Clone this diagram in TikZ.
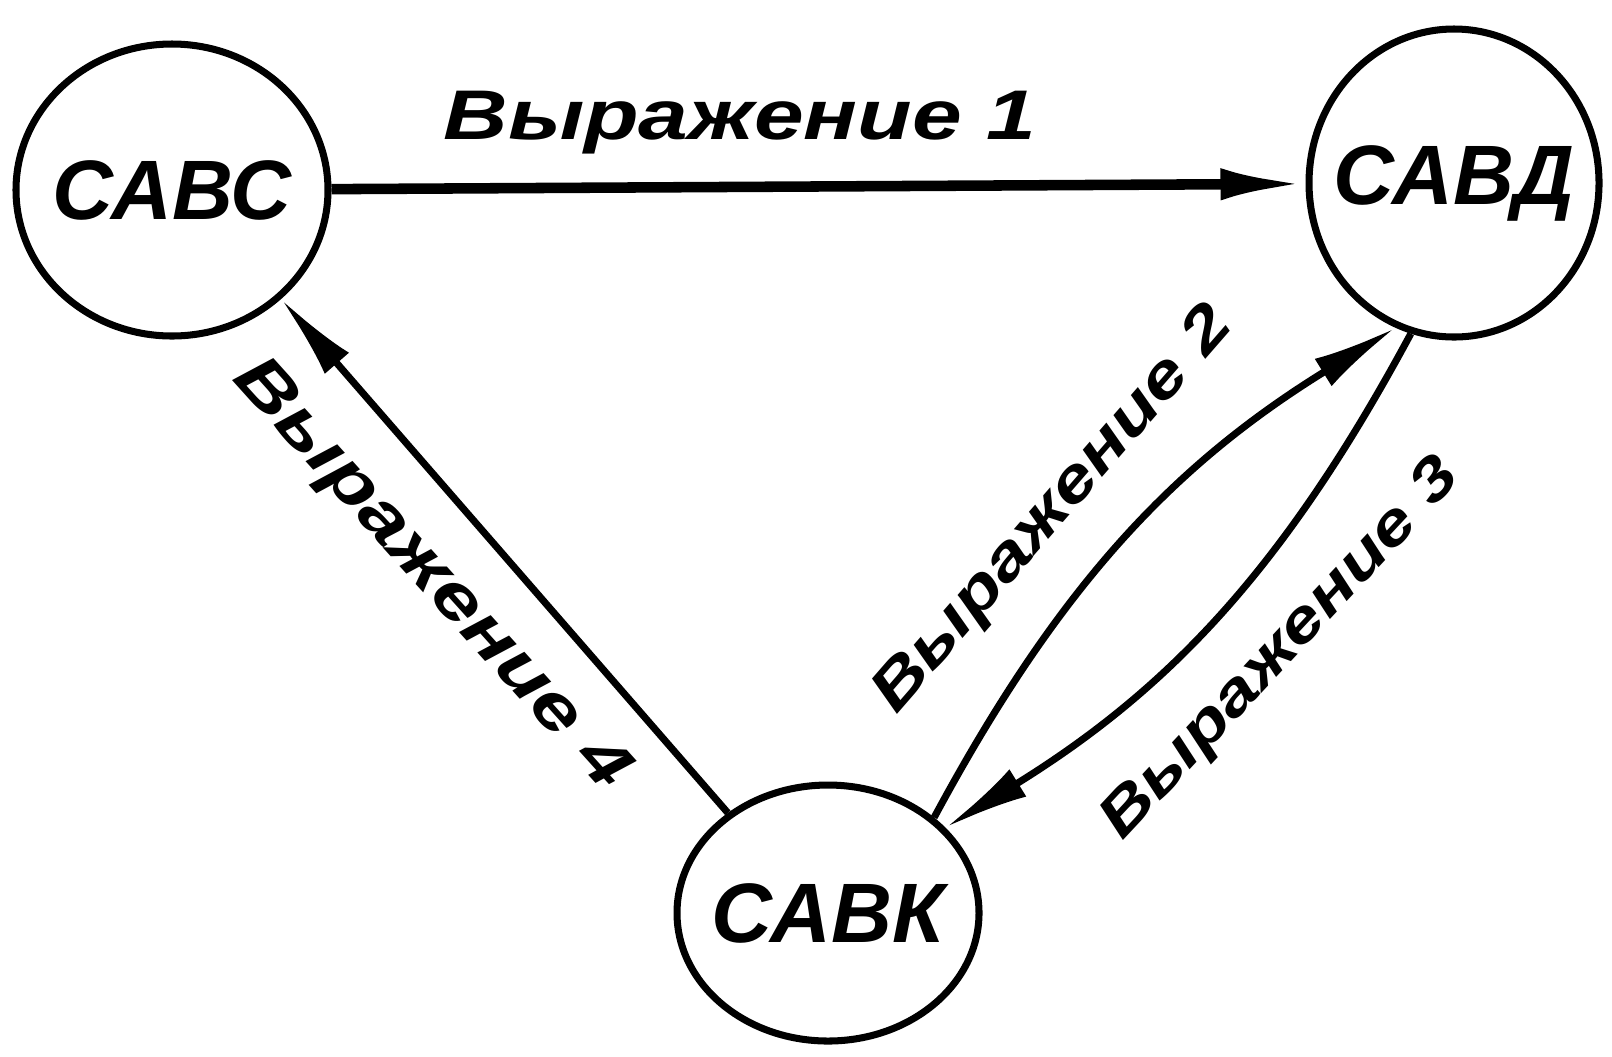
\documentclass[tikz,border=0pt]{standalone}
\usepackage{fontspec}
\setmainfont{Liberation Sans}
\newfontfamily\exprfont[FakeStretch=1.27]{Liberation Sans}
\usetikzlibrary{shapes, calc, positioning, arrows.meta}

\begin{document}
\begin{tikzpicture}[
    >={Latex[length=8.5mm, width=3.2mm]},
    stateText/.style={font=\fontsize{24}{28}\selectfont\bfseries\itshape},
    stateNode/.style={draw, ellipse, line width=2pt, label={[stateText]center:#1}},
    exprLabel/.style={font=\exprfont\fontsize{20}{24}\selectfont\bfseries\itshape},
    link/.style={->, line width=2pt},
  ]
  \useasboundingbox (0,0) rectangle (16.12,-10.56);
  % states
  \node[stateNode=САВС, minimum width=3.12cm, minimum height=2.92cm] (sabc) at (1.72,-1.90) {};
  \node[stateNode=САВД, minimum width=2.90cm, minimum height=3.08cm] (sabd) at (14.54,-1.83) {};
  \node[stateNode=САВК, minimum width=3.02cm, minimum height=2.56cm] (sabk) at (8.28,-9.13) {};
  % lines
  \draw[link, line width=3pt] (sabc) -- (sabd);
  \draw[link] (sabk.135) -- (sabc.-45);
  \draw[link] (sabk.42) to[bend left=15] (sabd.-112);
  \draw[link] (sabd.-106) to[bend left=15] (sabk.36);
  % labels
  \node[exprLabel] (expr1) at (7.40,-1.23) {Выражение 1};
  \node[exprLabel, rotate=49, scale=0.87] (expr2) at (10.54,-5.11) {Выражение 2};
  \node[exprLabel, rotate=47, scale=0.84] (expr3) at (12.82,-6.50) {Выражение 3};
  \node[exprLabel, rotate=-48, scale=0.94] (expr4) at (4.30,-5.76) {Выражение 4};
\end{tikzpicture}
\end{document}
